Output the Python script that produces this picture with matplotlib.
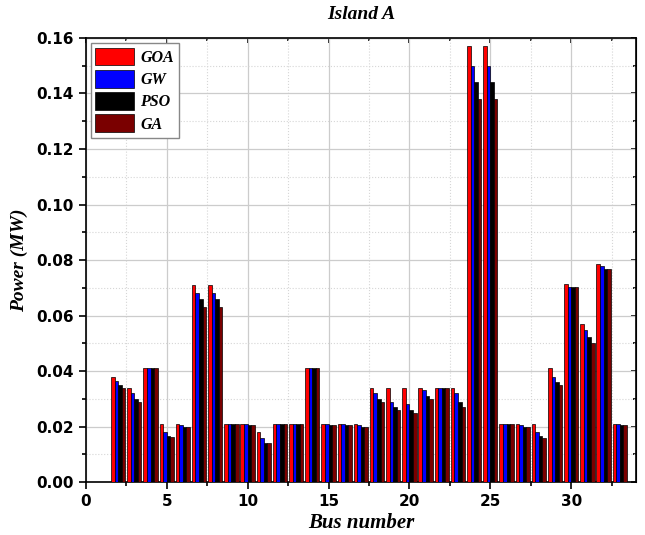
import numpy as np
import matplotlib
matplotlib.use("Agg")
import matplotlib.pyplot as plt
from matplotlib.ticker import MultipleLocator

# Bus numbers and power per algorithm (MW)
buses = list(range(2, 34))
goa = [0.038, 0.034, 0.0412, 0.021, 0.021, 0.071, 0.071, 0.021, 0.021, 0.018,
       0.021, 0.021, 0.0412, 0.021, 0.021, 0.021, 0.034, 0.034, 0.034, 0.034,
       0.034, 0.034, 0.157, 0.157, 0.021, 0.021, 0.021, 0.041, 0.0712, 0.057,
       0.0786, 0.021]
gw = [0.0365, 0.032, 0.0412, 0.018, 0.0205, 0.068, 0.068, 0.021, 0.021, 0.016,
      0.021, 0.021, 0.0412, 0.021, 0.021, 0.0205, 0.032, 0.029, 0.028, 0.033,
      0.034, 0.032, 0.150, 0.150, 0.021, 0.0205, 0.018, 0.038, 0.0703, 0.0548,
      0.0778, 0.021]
pso = [0.035, 0.030, 0.041, 0.0165, 0.020, 0.066, 0.066, 0.021, 0.0205, 0.014,
       0.021, 0.021, 0.041, 0.0205, 0.0205, 0.020, 0.030, 0.027, 0.026, 0.031,
       0.034, 0.029, 0.144, 0.144, 0.021, 0.020, 0.0165, 0.036, 0.0703, 0.0523,
       0.0768, 0.0205]
ga = [0.034, 0.029, 0.041, 0.0162, 0.020, 0.063, 0.063, 0.021, 0.0205, 0.014,
      0.021, 0.021, 0.041, 0.0205, 0.0205, 0.020, 0.029, 0.026, 0.025, 0.030,
      0.034, 0.027, 0.138, 0.138, 0.021, 0.020, 0.016, 0.035, 0.0703, 0.050,
      0.0768, 0.0205]

series = [("GOA", goa, "#ff0000"), ("GW", gw, "#0000ff"),
          ("PSO", pso, "#000000"), ("GA", ga, "#7a0000")]

fig = plt.figure(figsize=(6.45, 5.35), dpi=100)
ax = fig.add_axes([0.133, 0.099, 0.853, 0.830])

x = np.array(buses, dtype=float)
w = 0.22
for i, (name, vals, col) in enumerate(series):
    ax.bar(x + (i - 1.5) * w, vals, width=w, color=col, edgecolor="black",
           linewidth=0.5, label=name, zorder=3)

ax.set_xlim(0, 34)
ax.set_ylim(0, 0.16)
ax.xaxis.set_major_locator(MultipleLocator(5))
ax.xaxis.set_minor_locator(MultipleLocator(2.5))
ax.yaxis.set_major_locator(MultipleLocator(0.02))
ax.yaxis.set_minor_locator(MultipleLocator(0.01))
ax.yaxis.set_major_formatter(matplotlib.ticker.FormatStrFormatter("%.2f"))

ax.grid(which="major", color="#cccccc", linewidth=0.9, zorder=0)
ax.grid(which="minor", color="#d6d6d6", linewidth=0.8, linestyle=":", zorder=0)
ax.set_axisbelow(True)

ax.tick_params(which="both", direction="out", top=False, right=False, width=1.2)
ax.tick_params(which="major", length=5)
ax.tick_params(which="minor", length=3)
sec_x = ax.secondary_xaxis("top")
sec_x.xaxis.set_major_locator(MultipleLocator(5))
sec_x.xaxis.set_minor_locator(MultipleLocator(2.5))
sec_x.tick_params(which="both", direction="in", labeltop=False, width=1.2)
sec_y = ax.secondary_yaxis("right")
sec_y.yaxis.set_major_locator(MultipleLocator(0.02))
sec_y.yaxis.set_minor_locator(MultipleLocator(0.01))
sec_y.tick_params(which="both", direction="in", labelright=False, width=1.2)

for lab in ax.get_xticklabels() + ax.get_yticklabels():
    lab.set_fontweight("bold")
    lab.set_fontsize(11)
for sp in ax.spines.values():
    sp.set_linewidth(1.2)

serif = {"family": "Liberation Serif", "weight": "bold", "style": "italic"}
ax.set_title("Island A", fontsize=14, pad=14, **serif)
ax.set_xlabel("Bus number", fontsize=15, labelpad=3, **serif)
ax.set_ylabel("Power (MW)", fontsize=14, labelpad=6, **serif)

leg = ax.legend(loc="upper left", prop={"family": "Liberation Serif", "weight": "bold",
                "style": "italic", "size": 11.5}, handlelength=2.4, handleheight=1.35,
                fancybox=False, edgecolor="#888888", framealpha=1,
                borderaxespad=0.3, labelspacing=0.25, handletextpad=0.4,
                borderpad=0.3)

fig.savefig("out.png", dpi=100)
